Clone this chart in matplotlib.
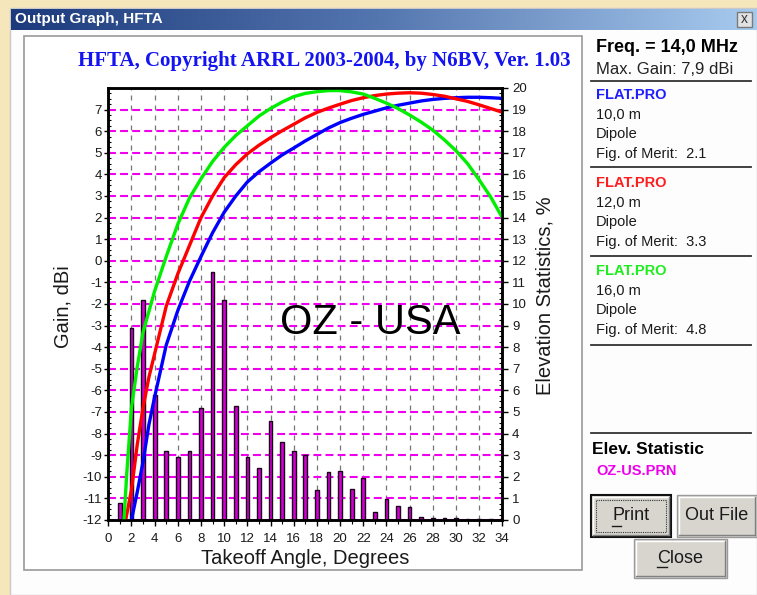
import numpy as np
import matplotlib.pyplot as plt
from matplotlib.patches import Rectangle
from matplotlib.colors import LinearSegmentedColormap
from matplotlib.ticker import MultipleLocator

plt.rcParams['font.family'] = ['Liberation Sans', 'DejaVu Sans']
plt.rcParams['axes.unicode_minus'] = False

# elevation statistics, % of openings per takeoff angle (OZ - USA)
bar_angle = np.arange(1, 35)
bar_pct = [0.8, 8.9, 10.2, 5.8, 3.2, 2.9, 3.2, 5.2, 11.5, 10.2,
           5.3, 2.9, 2.4, 4.6, 3.6, 3.2, 3.0, 1.4, 2.2, 2.25,
           1.45, 1.95, 0.35, 0.95, 0.65, 0.6, 0.15, 0.08, 0.08, 0.1,
           0.03, 0.03, 0.03, 0.03]

deg_steps = list(range(5, 35))

# FLAT.PRO dipole, 10 m high
ang_10 = [2.0, 2.5, 3.0, 3.5, 4.0] + deg_steps
gain_10 = [-12, -10.7, -9.3, -7.6, -6.3,
           -3.9, -2.3, -0.95, 0.2, 1.3, 2.25, 3.0, 3.65, 4.12, 4.52,
           4.9, 5.22, 5.55, 5.85, 6.15, 6.4, 6.6, 6.78, 6.93, 7.08,
           7.2, 7.3, 7.4, 7.47, 7.52, 7.55, 7.57, 7.57, 7.55, 7.52]

# FLAT.PRO dipole, 12 m high
ang_12 = [1.5, 2.0, 2.5, 3.0, 3.5, 4.0] + deg_steps
gain_12 = [-12, -10.6, -8.5, -6.8, -5.4, -4.3,
           -2.1, -0.6, 0.7, 2.0, 3.0, 3.85, 4.45, 4.95, 5.35, 5.7,
           6.02, 6.32, 6.62, 6.87, 7.07, 7.25, 7.42, 7.55, 7.65, 7.72,
           7.76, 7.78, 7.76, 7.7, 7.62, 7.5, 7.38, 7.22, 7.05, 6.88]

# FLAT.PRO dipole, 16 m high
ang_16 = [1.35, 1.6, 2.0, 2.5, 3.0, 3.5, 4.0] + deg_steps
gain_16 = [-12, -9.8, -6.8, -4.9, -3.3, -2.35, -1.4,
           0.2, 1.7, 2.9, 3.8, 4.6, 5.25, 5.8, 6.25, 6.7, 7.05,
           7.35, 7.6, 7.75, 7.83, 7.88, 7.88, 7.82, 7.72, 7.52, 7.3,
           7.05, 6.75, 6.42, 6.05, 5.6, 5.1, 4.5, 3.75, 2.95, 2.0]

x_ticks = list(range(0, 35, 2))
gain_ticks = list(range(-12, 8))
pct_ticks = list(range(0, 21))

W, H = 757, 595
fig = plt.figure(figsize=(W / 100, H / 100), dpi=100)

# window / dialog drawn in pixel coordinates
bg = fig.add_axes([0, 0, 1, 1])
bg.set_zorder(-1)
bg.add_patch(Rectangle((0, 0), W, H, color='#f5e6bb'))
bg.add_patch(Rectangle((10, 8), W - 10, H - 8, fc='#fdfdfd', ec='#c9c9c9', lw=1))
tb = LinearSegmentedColormap.from_list('tb', ['#1c3a7c', '#5577b0', '#a7cbef'])
bg.imshow(np.linspace(0, 1, 256)[None, :], cmap=tb, aspect='auto',
          extent=(11, W, 30, 9), zorder=3)
bg.text(15, 19.5, 'Output Graph, HFTA', color='white', fontsize=11,
        fontweight='bold', va='center', zorder=4)
bg.add_patch(Rectangle((737, 12), 15, 15, fc='#e2e2e2', ec='#7a7a7a', lw=1, zorder=4))
bg.text(744.5, 19, 'x', fontsize=10, ha='center', va='center', color='#333333',
        zorder=5)

# chart panel
bg.add_patch(Rectangle((24, 36), 558, 534, fc='white', ec='#999999', lw=1.2))
bg.text(324.5, 61, 'HFTA, Copyright ARRL 2003-2004, by N6BV, Ver. 1.03',
        family='Liberation Serif', fontweight='bold', fontsize=15,
        color='#1414f0', ha='center', va='center')

# right info panel
for yy in [81, 167, 256, 345, 433]:
    bg.plot([591, 751], [yy, yy], color='#333333', lw=1.3)

bg.text(596, 48, 'Freq. = 14,0 MHz', fontsize=13, fontweight='bold', va='center')
bg.text(596, 70, 'Max. Gain: 7,9 dBi', fontsize=12, va='center', color='#222222')
blocks = [('#1e1eff', '10,0 m', '2.1', 95), ('#ff1e1e', '12,0 m', '3.3', 183),
          ('#1eee1e', '16,0 m', '4.8', 271)]
for col, hgt, fom, y0 in blocks:
    bg.text(596, y0, 'FLAT.PRO', color=col, fontsize=10.5, fontweight='bold', va='center')
    bg.text(596, y0 + 20, hgt, fontsize=10.5, va='center', color='#1a1a1a')
    bg.text(596, y0 + 39, 'Dipole', fontsize=10.5, va='center', color='#1a1a1a')
    bg.text(596, y0 + 59, 'Fig. of Merit:  ' + fom, fontsize=10.5, va='center',
            color='#1a1a1a')
bg.text(592, 450, 'Elev. Statistic', fontsize=12.5, fontweight='bold', va='center')
bg.text(596, 471, 'OZ-US.PRN', fontsize=10.5, fontweight='bold', color='#ee00ee',
        va='center')


def button(x0, y0, x1, y1, label, focus=False, ul=None):
    bg.add_patch(Rectangle((x0, y0), x1 - x0, y1 - y0, fc='#d8d5cf',
                           ec='#111111' if focus else '#9a9a9a', lw=1.5 if focus else 1))
    bg.plot([x0 + 2, x1 - 2], [y0 + 2, y0 + 2], color='white', lw=1)
    bg.plot([x0 + 2, x0 + 2], [y0 + 2, y1 - 2], color='white', lw=1)
    bg.plot([x0 + 2, x1 - 2], [y1 - 2, y1 - 2], color='#808080', lw=1)
    bg.plot([x1 - 2, x1 - 2], [y0 + 2, y1 - 2], color='#808080', lw=1)
    if focus:
        bg.add_patch(Rectangle((x0 + 5, y0 + 5), x1 - x0 - 10, y1 - y0 - 10,
                               fill=False, ec='#333333', lw=0.8, ls=(0, (1, 1))))
    bg.text((x0 + x1) / 2, (y0 + y1) / 2, label, fontsize=13, ha='center',
            va='center', color='#1a1a1a')
    if ul:
        bg.plot(ul[:2], [ul[2], ul[2]], color='#1a1a1a', lw=1)


button(591, 495, 671, 537, 'Print', focus=True, ul=(612, 621, 525.5))
button(677, 495, 757, 537, 'Out File')
button(634, 539, 727, 578, 'Close', ul=(657, 667, 566.5))

bg.set_xlim(0, W)
bg.set_ylim(H, 0)
bg.axis('off')

# chart
ax = fig.add_axes([108.3 / W, (H - 520) / H, 394 / W, 432 / H])
ax2 = ax.twinx()
ax.set_zorder(ax2.get_zorder() + 1)
ax.patch.set_visible(False)

ax2.bar(bar_angle, bar_pct, width=0.32, color='#d000d0', edgecolor='#1a001a',
        linewidth=1.0, zorder=2)
ax2.set_ylim(0, 20)
ax2.set_yticks(pct_ticks)
ax2.yaxis.set_minor_locator(MultipleLocator(0.25))
ax2.set_axisbelow(True)
ax2.yaxis.grid(True, color='#ee00ee', lw=1.5, ls=(0, (3.8, 2)))
ax2.xaxis.set_visible(True)
ax2.set_xticks(x_ticks)
ax2.tick_params(axis='x', bottom=False, labelbottom=False, top=False, labeltop=False)
ax2.xaxis.grid(True, color='#777777', lw=0.9, ls=(0, (4, 4)))
ax2.tick_params(axis='y', which='major', direction='out', length=4, width=1,
                pad=3, labelsize=9.5, labelcolor='#1a1a1a')
ax2.tick_params(axis='y', which='minor', direction='in', length=2.5, width=0.8)
ax2.set_ylabel('Elevation Statistics, %', fontsize=14.5, color='#1a1a1a')
ax2.yaxis.set_label_coords(1.085, 0.52)

ax.plot(ang_10, gain_10, color='#0000ff', lw=2.4, solid_capstyle='butt')
ax.plot(ang_12, gain_12, color='#ff0000', lw=2.4, solid_capstyle='butt')
ax.plot(ang_16, gain_16, color='#00ee00', lw=2.4, solid_capstyle='butt')

ax.set_xlim(0, 34)
ax.set_ylim(-12, 8)
ax.set_xticks(x_ticks)
ax.xaxis.set_minor_locator(MultipleLocator(1))
ax.set_yticks(gain_ticks)
ax.yaxis.set_minor_locator(MultipleLocator(0.25))
ax.tick_params(axis='x', which='major', direction='out', length=4, width=1,
               pad=5, labelsize=9.5, labelcolor='#1a1a1a')
ax.tick_params(axis='x', which='minor', direction='out', length=3, width=0.8)
ax.tick_params(axis='y', which='major', direction='out', length=3, width=1,
               pad=1.5, labelsize=9.5, labelcolor='#1a1a1a')
ax.tick_params(axis='y', which='minor', direction='in', length=2.5, width=0.8)
ax.set_xlabel('Takeoff Angle, Degrees', fontsize=14.5, color='#1a1a1a')
ax.xaxis.set_label_coords(0.5, -0.068)
ax.set_ylabel('Gain, dBi', fontsize=14.5, color='#1a1a1a')
ax.yaxis.set_label_coords(-0.092, 0.495)

for a in (ax, ax2):
    for s in a.spines.values():
        s.set_linewidth(1.8)
        s.set_color('black')

ax.text(0.664, 0.456, 'OZ - USA', transform=ax.transAxes, fontsize=30,
        ha='center', va='center', color='black')

fig.savefig('out.png', dpi=100)
